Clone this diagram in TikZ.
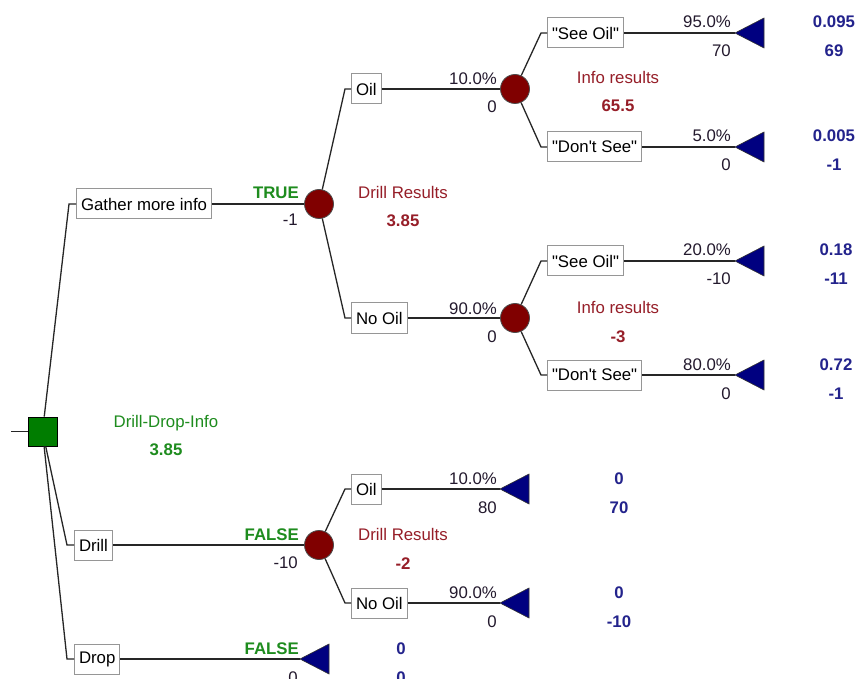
\documentclass[tikz,border=0pt]{standalone}
\usepackage{fontspec}
\setmainfont{Liberation Sans}[Ligatures=TeXOff]
\usetikzlibrary{calc}
\definecolor{chancered}{RGB}{128,0,0}
\definecolor{decgreen}{RGB}{0,125,0}
\definecolor{lblgreen}{RGB}{30,140,30}
\definecolor{lblred}{RGB}{150,30,40}
\definecolor{termblue}{RGB}{0,0,128}
\definecolor{valblue}{RGB}{35,35,140}
\definecolor{boxgray}{RGB}{150,150,150}
\definecolor{txt}{RGB}{35,25,45}
\begin{document}
\begin{tikzpicture}[x=1pt,y=-1pt,
  font=\fontsize{16.8}{19}\selectfont,
  conn/.style={draw=black!85,line width=1.3pt},
  bbox/.style={draw=boxgray,line width=1pt,fill=white,anchor=west,inner xsep=4.5pt,minimum height=30pt,text=black},
  chance/.style={circle,draw=black!70,line width=0.8pt,fill=chancered,minimum size=29pt,inner sep=0pt},
  decision/.style={rectangle,draw=black,line width=0.8pt,fill=decgreen,minimum size=29pt,inner sep=0pt},
  upper/.style={anchor=base east,inner sep=0pt,text=txt},
  lower/.style={anchor=base east,inner sep=0pt,text=txt},
  tf/.style={anchor=base east,inner sep=0pt,text=lblgreen,font=\fontsize{16.8}{19}\selectfont\bfseries},
  cname/.style={anchor=base,inner sep=0pt,text=lblred},
  cval/.style={anchor=base,inner sep=0pt,text=lblred,font=\fontsize{16.8}{19}\selectfont\bfseries},
  tval/.style={anchor=base,inner sep=0pt,text=valblue,font=\fontsize{16.8}{19}\selectfont\bfseries},
  tri/.style={fill=termblue,draw=black!80,line width=0.6pt}
]
\useasboundingbox[fill=white] (0,0) rectangle (860,679);

% ---------- root ----------
\node[decision] (root) at (42.5,431.5) {};
\coordinate (stub) at (11,431.5);
\draw[conn] (stub) -- (root.west);
\node[anchor=base,inner sep=0pt,text=lblgreen] (rootname) at (166,427) {Drill-Drop-Info};
\node[anchor=base,inner sep=0pt,text=lblgreen,font=\fontsize{16.8}{19}\selectfont\bfseries] (rootval) at (166,455) {3.85};

% ---------- level 1 boxes ----------
\node[bbox] (gather) at (76,204) {Gather more info};
\node[bbox] (drill) at (74,545) {Drill};
\node[bbox] (drop) at (74,659) {Drop};
\foreach \b in {gather,drill,drop}{
  \draw[conn] (root) -- ($(\b.west)+(-7,0)$) -- (\b.west);
}

% ---------- chance nodes ----------
\node[chance] (c1) at (319,204) {};
\node[chance] (c2) at (515,89) {};
\node[chance] (c3) at (515,318) {};
\node[chance] (c4) at (319,545) {};
\draw[conn] (gather.east) -- (c1);
\draw[conn] (drill.east) -- (c4);

\node[tf] (t1) at (299,199) {TRUE};
\node[lower] (v1) at (298,226) {-1};
\node[cname] (n1) at (403,199) {Drill Results};
\node[cval] (n1v) at (403,227) {3.85};

\node[tf] (t2) at (299,540) {FALSE};
\node[lower] (v2) at (298,568) {-10};
\node[cname] (n4) at (403,540) {Drill Results};
\node[cval] (n4v) at (403,569) {-2};

% ---------- level 2 boxes ----------
\node[bbox] (oil1) at (351,89) {Oil};
\node[bbox] (nooil1) at (351,318) {No Oil};
\node[bbox] (oil3) at (351,489) {Oil};
\node[bbox] (nooil3) at (351,603) {No Oil};
\draw[conn] (c1) -- ($(oil1.west)+(-6,0)$) -- (oil1.west);
\draw[conn] (c1) -- ($(nooil1.west)+(-6,0)$) -- (nooil1.west);
\draw[conn] (c4) -- ($(oil3.west)+(-6,0)$) -- (oil3.west);
\draw[conn] (c4) -- ($(nooil3.west)+(-6,0)$) -- (nooil3.west);
\draw[conn] (oil1.east) -- (c2);
\draw[conn] (nooil1.east) -- (c3);

\node[upper] (p1) at (497,85) {10.0\%};
\node[lower] (p1v) at (497,113) {0};
\node[upper] (p2) at (497,314) {90.0\%};
\node[lower] (p2v) at (497,342) {0};

\node[cname] (n2) at (618,84) {Info results};
\node[cval] (n2v) at (618,112) {65.5};
\node[cname] (n3) at (618,313) {Info results};
\node[cval] (n3v) at (618,342) {-3};

% ---------- level 3 boxes ----------
\node[bbox] (see1) at (547,33) {"See Oil"};
\node[bbox] (dont1) at (547,147) {"Don't See"};
\node[bbox] (see2) at (547,261) {"See Oil"};
\node[bbox] (dont2) at (547,375) {"Don't See"};
\draw[conn] (c2) -- ($(see1.west)+(-6,0)$) -- (see1.west);
\draw[conn] (c2) -- ($(dont1.west)+(-6,0)$) -- (dont1.west);
\draw[conn] (c3) -- ($(see2.west)+(-6,0)$) -- (see2.west);
\draw[conn] (c3) -- ($(dont2.west)+(-6,0)$) -- (dont2.west);

% ---------- terminals ----------
\coordinate (e1) at (735,33);
\coordinate (e2) at (735,147);
\coordinate (e3) at (735,261);
\coordinate (e4) at (735,375);
\coordinate (e5) at (500,489);
\coordinate (e6) at (500,603);
\coordinate (e7) at (300,659);
\draw[conn] (see1.east) -- (e1);
\draw[conn] (dont1.east) -- (e2);
\draw[conn] (see2.east) -- (e3);
\draw[conn] (dont2.east) -- (e4);
\draw[conn] (oil3.east) -- (e5);
\draw[conn] (nooil3.east) -- (e6);
\draw[conn] (drop.east) -- (e7);
\foreach \e in {e1,e2,e3,e4,e5,e6,e7}{
  \draw[tri] (\e) -- ++(29,-15) -- ++(0,30) -- cycle;
}

% terminal branch labels
\node[upper] (q1) at (731,28) {95.0\%};
\node[lower] (q1v) at (731,57) {70};
\node[upper] (q2) at (731,142) {5.0\%};
\node[lower] (q2v) at (731,171) {0};
\node[upper] (q3) at (731,256) {20.0\%};
\node[lower] (q3v) at (731,285) {-10};
\node[upper] (q4) at (731,370) {80.0\%};
\node[lower] (q4v) at (731,399) {0};
\node[upper] (q5) at (497,484) {10.0\%};
\node[lower] (q5v) at (497,513) {80};
\node[upper] (q6) at (497,598) {90.0\%};
\node[lower] (q6v) at (497,627) {0};
\node[tf] (t3) at (299,654) {FALSE};
\node[lower] (q7v) at (298,683) {0};

% terminal values
\node[tval] (r1) at (834,28) {0.095};
\node[tval] (r1v) at (834,57) {69};
\node[tval] (r2) at (834,142) {0.005};
\node[tval] (r2v) at (834,171) {-1};
\node[tval] (r3) at (836,256) {0.18};
\node[tval] (r3v) at (836,285) {-11};
\node[tval] (r4) at (836,370) {0.72};
\node[tval] (r4v) at (836,399) {-1};
\node[tval] (r5) at (619,484) {0};
\node[tval] (r5v) at (619,513) {70};
\node[tval] (r6) at (619,598) {0};
\node[tval] (r6v) at (619,627) {-10};
\node[tval] (r7) at (401,654) {0};
\node[tval] (r7v) at (401,683) {0};
\end{tikzpicture}
\end{document}
